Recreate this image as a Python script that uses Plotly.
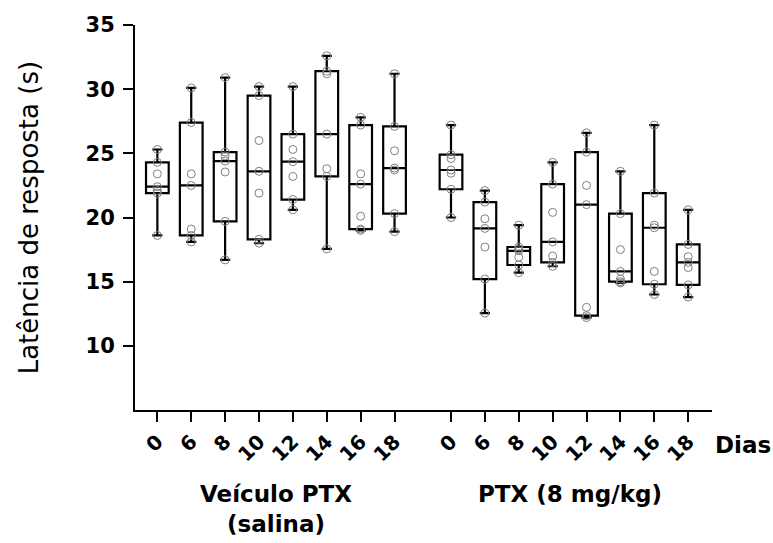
import plotly.graph_objects as go

# Sampling days (x tick labels, repeated for each treatment group)
days = [0, 6, 8, 10, 12, 14, 16, 18]

# Response latency (s) per animal, one list per day - vehicle group
veiculo_ptx = [
    [18.6, 21.9, 22.1, 22.4, 23.4, 24.3, 25.3],
    [18.1, 18.6, 19.1, 22.5, 23.4, 27.4, 30.1],
    [16.7, 19.7, 23.55, 24.4, 24.8, 25.1, 30.9],
    [18.0, 18.3, 21.9, 23.6, 26.0, 29.5, 30.2],
    [20.6, 21.4, 23.2, 24.35, 25.3, 26.5, 30.2],
    [17.55, 23.2, 23.8, 26.5, 31.2, 31.4, 32.6],
    [19.0, 19.1, 20.1, 22.6, 23.4, 27.2, 27.8],
    [18.9, 20.3, 23.7, 23.85, 25.2, 27.1, 31.2],
]

# Response latency (s) per animal, one list per day - PTX 8 mg/kg group
ptx_8mg = [
    [20.0, 22.2, 23.45, 23.7, 24.6, 24.9, 27.2],
    [12.55, 15.2, 17.7, 19.15, 19.9, 21.2, 22.1],
    [15.7, 16.3, 16.9, 17.4, 17.55, 17.7, 19.4],
    [16.2, 16.5, 17.0, 18.1, 20.4, 22.6, 24.3],
    [12.2, 12.35, 13.0, 21.0, 22.5, 25.1, 26.6],
    [14.9, 15.0, 15.2, 15.8, 17.5, 20.3, 23.6],
    [14.0, 14.8, 15.8, 19.2, 19.4, 21.9, 27.2],
    [13.8, 14.75, 16.1, 16.5, 16.95, 17.9, 20.6],
]

group_labels = ["Veículo PTX<br>(salina)", "PTX (8 mg/kg)"]
y_title = "Latência de resposta (s)"
x_unit = "Dias"

# Horizontal layout: second group shifted right with a gap between groups
GROUP_OFFSET = len(days) + 2 / 3
pos_left = list(range(len(days)))
pos_right = [p + GROUP_OFFSET for p in pos_left]

BOLD = dict(family="DejaVu Sans", weight="bold", color="black")


def box_trace(positions, samples):
    xs, ys = [], []
    for p, vals in zip(positions, samples):
        xs += [p] * len(vals)
        ys += vals
    return go.Box(
        x=xs,
        y=ys,
        quartilemethod="exclusive",
        boxpoints="all",
        jitter=0,
        pointpos=0,
        width=0.67,
        whiskerwidth=0.45,
        fillcolor="rgba(0,0,0,0)",
        line=dict(color="black", width=2.2),
        marker=dict(symbol="circle-open", size=8, color="#808080",
                    line=dict(width=1, color="#808080")),
        showlegend=False,
        hoverinfo="y",
    )


fig = go.Figure()
fig.add_trace(box_trace(pos_left, veiculo_ptx))
fig.add_trace(box_trace(pos_right, ptx_8mg))

fig.update_layout(
    width=773,
    height=543,
    margin=dict(l=135, r=61, t=25, b=133),
    paper_bgcolor="white",
    plot_bgcolor="white",
    boxmode="overlay",
    xaxis=dict(
        range=[-0.66, 16.37],
        tickvals=pos_left + pos_right,
        ticktext=[str(d) for d in days] * 2,
        tickangle=-45,
        ticks="outside",
        ticklen=10,
        tickwidth=2,
        tickcolor="black",
        showline=True,
        linewidth=2,
        linecolor="black",
        showgrid=False,
        zeroline=False,
        tickfont=dict(size=20, **BOLD),
    ),
    yaxis=dict(
        range=[5, 35],
        tickvals=[10, 15, 20, 25, 30, 35],
        ticks="outside",
        ticklen=10,
        tickwidth=2,
        tickcolor="black",
        ticklabelstandoff=4,
        showline=True,
        linewidth=2,
        linecolor="black",
        showgrid=False,
        zeroline=False,
        tickfont=dict(size=21, **BOLD),
    ),
    annotations=[
        dict(text=y_title, textangle=-90, xref="paper", yref="paper",
             x=-0.184, y=0.5, xanchor="center", yanchor="middle",
             showarrow=False,
             font=dict(family="DejaVu Sans", weight=500, size=26,
                       color="black")),
        dict(text=x_unit, xref="paper", yref="paper", x=1.002, y=-0.091,
             xanchor="left", yanchor="middle", showarrow=False,
             font=dict(size=23, **BOLD)),
        dict(text=group_labels[0], xref="x", yref="paper",
             x=(pos_left[0] + pos_left[-1]) / 2, y=-0.18,
             xanchor="center", yanchor="top", showarrow=False,
             font=dict(size=23, **BOLD)),
        dict(text=group_labels[1], xref="x", yref="paper",
             x=(pos_right[0] + pos_right[-1]) / 2, y=-0.18,
             xanchor="center", yanchor="top", showarrow=False,
             font=dict(size=23, **BOLD)),
    ],
)

fig.write_html("out.html")
